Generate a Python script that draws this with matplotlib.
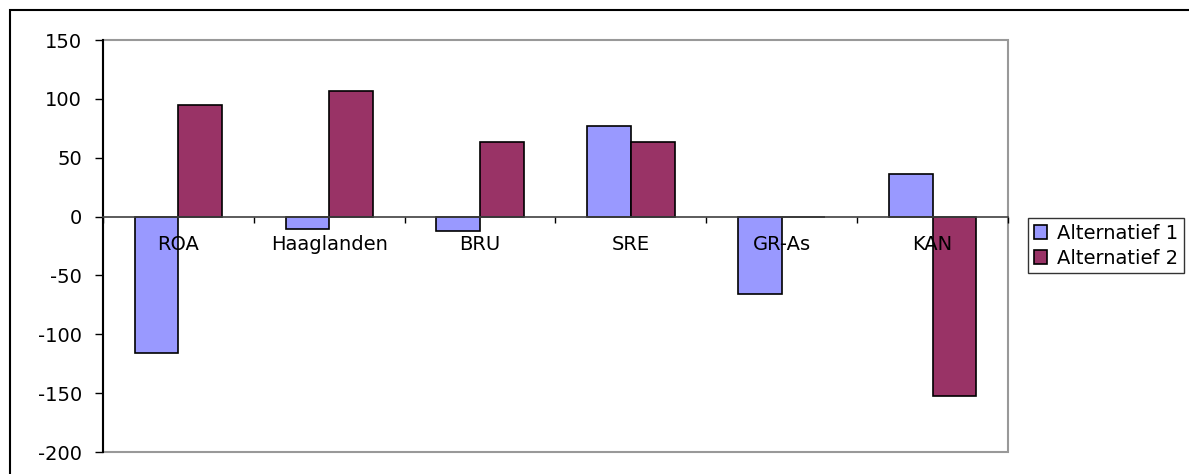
import numpy as np
import matplotlib.pyplot as plt
from matplotlib.patches import Rectangle

plt.rcParams['font.family'] = ['DejaVu Sans']

regions = ['ROA', 'Haaglanden', 'BRU', 'SRE', 'GR-As', 'KAN']
alt1 = [-116, -10.5, -12, 77, -66, 36]
alt2 = [95, 107, 63, 63, 0, -152.5]
series_names = ['Alternatief 1', 'Alternatief 2']
yticks = [-200, -150, -100, -50, 0, 50, 100, 150]

fig = plt.figure(figsize=(11.89, 4.74), dpi=100)
ax = fig.add_axes([103/1189, 1-452/474, 905/1189, 412/474])

x = np.arange(len(regions))
w = 0.29
b1 = ax.bar(x - w/2, alt1, w, color='#9999FF', edgecolor='black', linewidth=1.2, label=series_names[0])
b2 = ax.bar(x + w/2, alt2, w, color='#993366', edgecolor='black', linewidth=1.2, label=series_names[1])

ax.set_xlim(-0.5, len(regions) - 0.5)
ax.set_ylim(-200, 150)
ax.set_yticks(yticks)
ax.set_yticklabels([str(v) for v in yticks])

# category axis crosses at zero, ticks on the boundaries, labels at centres
ax.spines['bottom'].set_position(('data', 0))
ax.spines['bottom'].set_color('#404040')
ax.spines['bottom'].set_linewidth(1.2)
ax.set_xticks(np.arange(len(regions) + 1) - 0.5)
ax.set_xticklabels([])
ax.set_xticks(x, minor=True)
ax.set_xticklabels(regions, minor=True)
ax.tick_params(axis='x', which='major', direction='out', length=4.5, width=1, color='black')
ax.tick_params(axis='x', which='minor', length=0, pad=13, labelsize=14)
ax.tick_params(axis='y', direction='out', length=6, width=1, pad=9, labelsize=14)

ax.spines['left'].set_linewidth(1.5)
ax.spines['left'].set_color('black')
for s in ['top', 'right']:
    ax.spines[s].set_visible(False)
# plot area border
ax.add_patch(Rectangle((0, 0), 1, 1, transform=ax.transAxes, fill=False,
                       edgecolor='#999999', linewidth=1.5, clip_on=False, zorder=0.5))

fig.legend(handles=[b1, b2], loc='upper left', bbox_to_anchor=(1028/1189, 1-218/474),
           fontsize=14, frameon=True, fancybox=False, edgecolor='black',
           handlelength=0.7, handleheight=0.7, handletextpad=0.5,
           labelspacing=0.3, borderpad=0.3, borderaxespad=0)
fig.legends[0].get_frame().set_linewidth(1)

# chart area frame
fig.patches.append(Rectangle((10/1189, -0.1), 1.2, 1.1 - 10/474, transform=fig.transFigure,
                             fill=False, edgecolor='black', linewidth=1.5))

fig.savefig('out.png', dpi=100)
